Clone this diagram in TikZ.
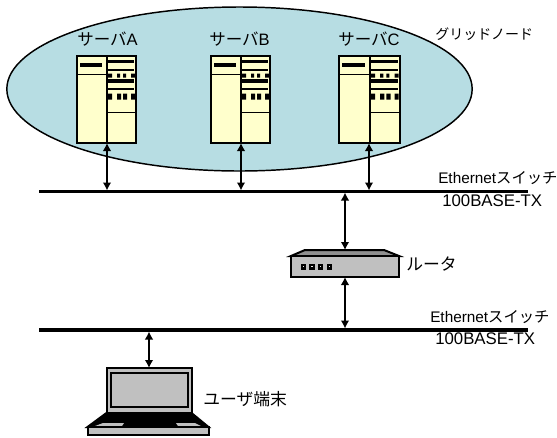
\documentclass[tikz,border=0pt]{standalone}
\usepackage{fontspec}
\usetikzlibrary{shapes.geometric,arrows.meta}
\setmainfont{Liberation Sans}
\newfontfamily\cjk{Noto Sans CJK JP}
\definecolor{cloud}{HTML}{B7DDE3}
\definecolor{cream}{HTML}{FFFFCC}
\definecolor{gr}{HTML}{C0C0C0}
\tikzset{
 x=0.75pt,y=-0.75pt,
 lbl/.style={inner sep=0pt,font=\fontsize{12.4pt}{14pt}\selectfont,anchor=west},
 lbls/.style={lbl,font=\fontsize{10.5pt}{12pt}\selectfont},
 lble/.style={lbl,font=\fontsize{11.5pt}{14pt}\selectfont},
 lbln/.style={lbl,font=\fontsize{12.6pt}{14pt}\selectfont},
 bus/.style={line width=2.3pt},
 busb/.style={line width=3.5pt},
 link/.style={line width=1.4pt,{Latex[length=6pt,width=6.5pt]}-{Latex[length=6pt,width=6.5pt]}},
 ink/.style={line width=1.5pt,draw=black},
 thin1/.style={line width=1.1pt},
 bar/.style={line width=1.9pt},
 server/.pic={
  \path[ink,fill=cream] (0,0) rectangle (59,87);
  \draw[ink] (30,0) -- (30,87);
  \draw[thin1] (0,18.5) -- (30,18.5);
  \draw[line width=2.4pt] (3,9) -- (25,9);
  \draw[bar] (30,5.5) -- (57,5.5);
  \draw[bar] (30,14) -- (57,14);
  \draw[line width=2.6pt] (30,25) -- (57,25);
  \draw[bar] (30,33) -- (57,33);
  \draw[thin1] (30,56.7) -- (59,56.7);
  \fill (31,17.5) rectangle (35,21.5) (40,17.5) rectangle (43,21.5) (46,17.5) rectangle (49,21.5) (54,17.5) rectangle (58,21.5);
  \fill (31,37.5) rectangle (35,43.5) (40,37.5) rectangle (44,43.5) (46,37.5) rectangle (50,43.5) (54,37.5) rectangle (58,43.5);
 }
}
\begin{document}
\begin{tikzpicture}
\useasboundingbox (0,0) rectangle (557,437);
\node[ellipse,draw=black,line width=1.1pt,fill=cloud,minimum width=349pt,minimum height=123pt,inner sep=0pt] (grid) at (239.5,89) {};
\pic at (77,56) {server};
\pic at (211,56) {server};
\pic[xscale=1.03] at (339,56) {server};
\coordinate (sa) at (107,143);\coordinate (sb) at (241,143);\coordinate (sc) at (369,143);
\coordinate (l1) at (39,191.5);\coordinate (r1) at (528,191.5);
\coordinate (l2) at (39,330);\coordinate (r2) at (528,330);
\coordinate (ta) at (107,190.5);\coordinate (tb) at (241,190.5);\coordinate (tc) at (369,190.5);
\coordinate (tr) at (345,192.5);\coordinate (trl) at (345,328.5);\coordinate (tu) at (149,331.5);
\draw[bus] (l1) -- (r1);
\draw[busb] (l2) -- (r2);
\draw[link] (sa) -- (ta);
\draw[link] (sb) -- (tb);
\draw[link] (sc) -- (tc);
% router
\path[ink,fill=gr!75!black] (291,256) -- (305,250) -- (384,250) -- (399,256) -- cycle;
\path[ink,fill=gr] (291,256) rectangle (399,277);
\foreach \x in {303.5,312,320.5,329.5}{\draw[line width=1.6pt,fill=gr!30] (\x-1.7,265) rectangle (\x+1.7,268.5);}
\coordinate (rt) at (345,250);\coordinate (rb) at (345,277);
\draw[link] (tr) -- (rt);
\draw[link] (rb) -- (trl);
% laptop
\path[ink,fill=gr] (106.5,368) rectangle (191.5,413);
\path[ink,fill=gr] (111,372.5) rectangle (187.5,407);
\path[fill=black,ink] (106.5,413) -- (191.5,413) -- (208.5,427) -- (87.5,427) -- cycle;
\path[fill=gr] (95,426) -- (122,426) -- (124,423) -- (103,423) -- cycle;
\path[fill=gr] (201,426) -- (178,426) -- (176,423) -- (195,423) -- cycle;
\path[ink,fill=gr] (87.5,427) rectangle (208.5,434.5);
\coordinate (tuu) at (149,368);
\draw[link] (tu) -- (tuu);
% labels
\node[lbl] (t1) at (77,39) {\cjk サーバ\rmfamily A};
\node[lbl] (t2) at (209,39) {\cjk サーバ\rmfamily B};
\node[lbl] (t3) at (338,39) {\cjk サーバ\rmfamily C};
\node[lbls] (t4) at (435,34) {\cjk グリッドノード};
\node[lble] (t5) at (438,178) {Ethernet\cjk スイッチ};
\node[lbln] (t6) at (442,201) {100BASE-TX};
\node[lbln] (t7) at (406,264) {\cjk ルータ};
\node[lble] (t8) at (430,317) {Ethernet\cjk スイッチ};
\node[lbln] (t9) at (435,339) {100BASE-TX};
\node[lbln] (t11) at (203,399) {\cjk ユーザ端末};
\end{tikzpicture}
\end{document}
